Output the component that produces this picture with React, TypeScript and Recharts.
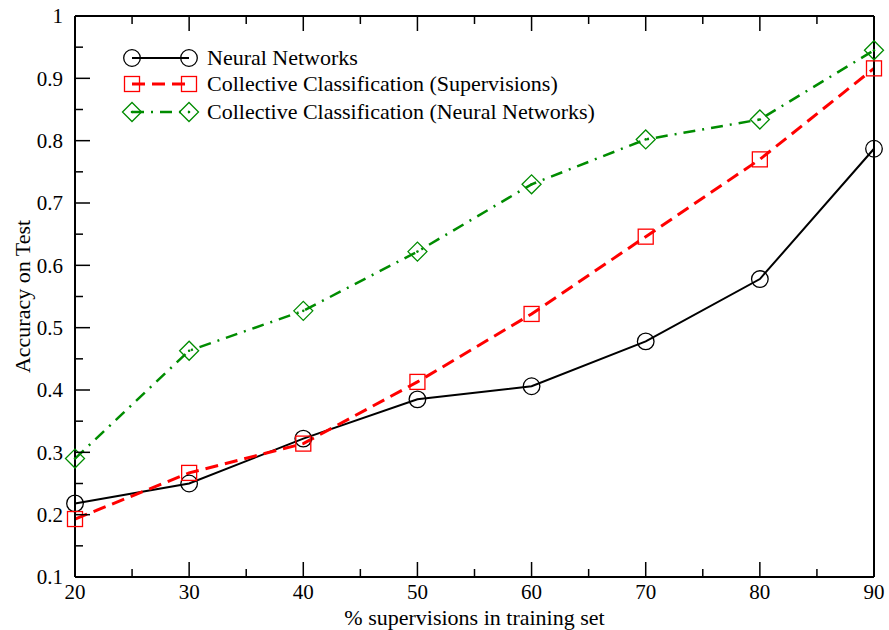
import React from "react";
import { LineChart, Line, XAxis, YAxis } from "recharts";

const supervisions = [20, 30, 40, 50, 60, 70, 80, 90];
const neuralNetworks = [0.218, 0.25, 0.322, 0.385, 0.406, 0.478, 0.578, 0.787];
const ccSupervisions = [0.193, 0.267, 0.314, 0.413, 0.522, 0.646, 0.77, 0.916];
const ccNeuralNetworks = [0.29, 0.463, 0.527, 0.622, 0.73, 0.802, 0.834, 0.945];

const xMajor = [20, 30, 40, 50, 60, 70, 80, 90];
const xMinor = [25, 35, 45, 55, 65, 75, 85];
const yMajor = [0.1, 0.2, 0.3, 0.4, 0.5, 0.6, 0.7, 0.8, 0.9, 1];
const yMinor = [0.15, 0.25, 0.35, 0.45, 0.55, 0.65, 0.75, 0.85, 0.95];

const seriesNames = [
  "Neural Networks",
  "Collective Classification (Supervisions)",
  "Collective Classification (Neural Networks)",
];

const data = supervisions.map((s, i) => ({
  x: s,
  nn: neuralNetworks[i],
  ccs: ccSupervisions[i],
  ccn: ccNeuralNetworks[i],
}));

const FONT = "'Liberation Serif', 'Times New Roman', serif";
const GREEN = "#008c00";
const RED = "#ff0000";
const MAJOR = 15;
const MINOR = 8;

const xTicks = [...xMajor, ...xMinor].sort((a, b) => a - b);
const yTicks = [...yMajor, ...yMinor].sort((a, b) => a - b);

const isMajorX = (v: number) => xMajor.includes(v);
const isMajorY = (v: number) => yMajor.some((m) => Math.abs(m - v) < 1e-6);

function BottomTick({ x, y, payload }: any) {
  const major = isMajorX(payload.value);
  return (
    <g>
      <line x1={x} y1={y} x2={x} y2={y - (major ? MAJOR : MINOR)} stroke="#000" strokeWidth={1.5} />
      {major && (
        <text x={x} y={y + 22} textAnchor="middle" fontFamily={FONT} fontSize={21} fill="#000">
          {payload.value}
        </text>
      )}
    </g>
  );
}

function TopTick({ x, y, payload }: any) {
  const major = isMajorX(payload.value);
  return <line x1={x} y1={y} x2={x} y2={y + (major ? MAJOR : MINOR)} stroke="#000" strokeWidth={1.5} />;
}

function LeftTick({ x, y, payload }: any) {
  const major = isMajorY(payload.value);
  return (
    <g>
      <line x1={x} y1={y} x2={x + (major ? MAJOR : MINOR)} y2={y} stroke="#000" strokeWidth={1.5} />
      {major && (
        <text x={x - 12} y={y} dy="0.35em" textAnchor="end" fontFamily={FONT} fontSize={21} fill="#000">
          {String(Math.round(payload.value * 10) / 10)}
        </text>
      )}
    </g>
  );
}

function RightTick({ x, y, payload }: any) {
  const major = isMajorY(payload.value);
  return <line x1={x} y1={y} x2={x - (major ? MAJOR : MINOR)} y2={y} stroke="#000" strokeWidth={1.5} />;
}

function CircleDot({ cx, cy }: any) {
  if (cx == null || cy == null) return null;
  return <circle cx={cx} cy={cy} r={8.3} fill="none" stroke="#000" strokeWidth={1.3} />;
}

function SquareDot({ cx, cy }: any) {
  if (cx == null || cy == null) return null;
  return <rect x={cx - 7.5} y={cy - 7.5} width={15} height={15} fill="none" stroke={RED} strokeWidth={1.3} />;
}

function DiamondDot({ cx, cy }: any) {
  if (cx == null || cy == null) return null;
  const r = 9.5;
  return (
    <g>
      <polygon
        points={`${cx - r},${cy} ${cx},${cy - r} ${cx + r},${cy} ${cx},${cy + r}`}
        fill="none"
        stroke={GREEN}
        strokeWidth={1.3}
      />
      <circle cx={cx} cy={cy} r={1.3} fill={GREEN} />
    </g>
  );
}

const legendStyles = [
  { stroke: "#000", width: 2, dash: undefined, Dot: CircleDot },
  { stroke: RED, width: 3, dash: "13 7", Dot: SquareDot },
  { stroke: GREEN, width: 2.5, dash: "12 7 2 7", Dot: DiamondDot },
];

function YTitle({ viewBox }: any) {
  const cx = 22;
  const cy = viewBox.y + viewBox.height / 2;
  return (
    <text
      x={cx}
      y={cy}
      transform={`rotate(-90 ${cx} ${cy})`}
      textAnchor="middle"
      dy="0.35em"
      fontFamily={FONT}
      fontSize={22}
      fill="#000"
    >
      Accuracy on Test
    </text>
  );
}

export default function App() {
  return (
    <div style={{ position: "absolute", left: 0, top: 0, width: 889, height: 630, background: "#fff" }}>
      <LineChart width={889} height={630} data={data} margin={{ top: 15, right: 14, bottom: 0, left: 0 }}>
        <XAxis
          dataKey="x"
          type="number"
          domain={[20, 90]}
          ticks={xTicks}
          interval={0}
          height={53}
          tickSize={0}
          tickMargin={0}
          tickLine={false}
          axisLine={{ stroke: "#000", strokeWidth: 2 }}
          tick={<BottomTick />}
          label={{
            value: "% supervisions in training set",
            position: "insideBottom",
            offset: 5,
            fontFamily: FONT,
            fontSize: 22,
            fill: "#000",
          }}
        />
        <XAxis
          xAxisId="top"
          dataKey="x"
          type="number"
          orientation="top"
          domain={[20, 90]}
          ticks={xTicks}
          interval={0}
          height={1}
          tickSize={0}
          tickMargin={0}
          tickLine={false}
          axisLine={{ stroke: "#000", strokeWidth: 2 }}
          tick={<TopTick />}
        />
        <YAxis
          type="number"
          domain={[0.1, 1]}
          ticks={yTicks}
          interval={0}
          width={75}
          tickSize={0}
          tickMargin={0}
          tickLine={false}
          axisLine={{ stroke: "#000", strokeWidth: 2 }}
          tick={<LeftTick />}
          label={<YTitle />}
        />
        <YAxis
          yAxisId="right"
          orientation="right"
          type="number"
          domain={[0.1, 1]}
          ticks={yTicks}
          interval={0}
          width={1}
          tickSize={0}
          tickMargin={0}
          tickLine={false}
          axisLine={{ stroke: "#000", strokeWidth: 2 }}
          tick={<RightTick />}
        />
        <Line
          type="linear"
          dataKey="nn"
          name={seriesNames[0]}
          stroke="#000"
          strokeWidth={2}
          dot={<CircleDot />}
          activeDot={false}
          isAnimationActive={false}
        />
        <Line
          type="linear"
          dataKey="ccs"
          name={seriesNames[1]}
          stroke={RED}
          strokeWidth={3}
          strokeDasharray="13 7"
          dot={<SquareDot />}
          activeDot={false}
          isAnimationActive={false}
        />
        <Line
          type="linear"
          dataKey="ccn"
          name={seriesNames[2]}
          stroke={GREEN}
          strokeWidth={2.5}
          strokeDasharray="12 7 2 7"
          dot={<DiamondDot />}
          activeDot={false}
          isAnimationActive={false}
        />
      </LineChart>
      <div style={{ position: "absolute", left: 118, top: 45, fontFamily: FONT, fontSize: 22, color: "#000" }}>
        {seriesNames.map((name, i) => {
          const s = legendStyles[i];
          return (
            <div
              key={name}
              style={{ display: "flex", alignItems: "center", height: 26, marginTop: i === 2 ? 2 : 0 }}
            >
              <svg width={89} height={26} style={{ flexShrink: 0 }}>
                <line x1={14} y1={13} x2={71} y2={13} stroke={s.stroke} strokeWidth={s.width} strokeDasharray={s.dash} />
                <s.Dot cx={14} cy={13} />
                <s.Dot cx={71} cy={13} />
              </svg>
              <span style={{ lineHeight: "26px", whiteSpace: "nowrap" }}>{name}</span>
            </div>
          );
        })}
      </div>
    </div>
  );
}
